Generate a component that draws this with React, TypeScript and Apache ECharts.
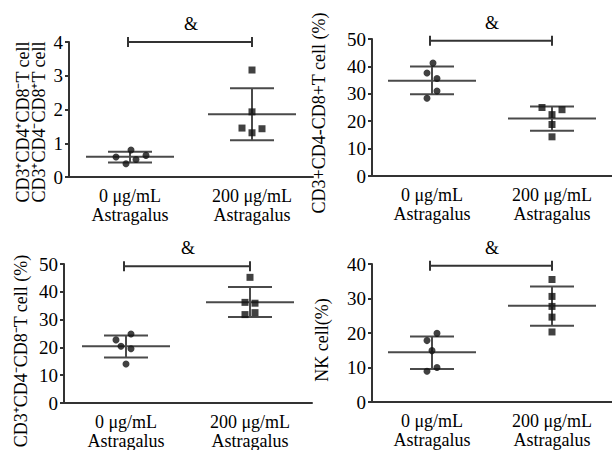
import React, { useEffect, useRef } from "react";
import * as echarts from "echarts";

const CATEGORIES = ["0 μg/mL\nAstragalus", "200 μg/mL\nAstragalus"];

// Panel 1: ratio
const P1_CTRL = [0.59, 0.8, 0.39, 0.52, 0.64];
const P1_TRT = [3.17, 1.93, 1.45, 1.43, 1.31];
const P1_MEAN = [0.6, 1.86];
const P1_LOW = [0.43, 1.09];
const P1_HIGH = [0.75, 2.63];

// Panel 2: CD3+CD4-CD8+ T cell (%)
const P2_CTRL = [41.2, 37.6, 35.6, 31.0, 28.4];
const P2_TRT = [25.0, 24.2, 22.4, 18.8, 14.3];
const P2_MEAN = [34.8, 21.0];
const P2_LOW = [29.8, 16.5];
const P2_HIGH = [40.0, 25.4];

// Panel 3: CD3+CD4-CD8- T cell (%)
const P3_CTRL = [24.8, 22.7, 20.4, 19.5, 14.0];
const P3_TRT = [45.2, 36.2, 35.9, 31.8, 32.5];
const P3_MEAN = [20.4, 36.2];
const P3_LOW = [16.4, 30.9];
const P3_HIGH = [24.3, 41.7];

// Panel 4: NK cell (%)
const P4_CTRL = [19.9, 17.8, 14.9, 10.0, 8.9];
const P4_TRT = [35.5, 30.6, 27.7, 24.6, 20.3];
const P4_MEAN = [14.4, 27.9];
const P4_LOW = [9.6, 22.1];
const P4_HIGH = [19.0, 33.5];

const Y_MAX = [4, 50, 50, 40];
const Y_INTERVAL = [1, 10, 10, 10];
const BRACKET = [4.0, 49.4, 49.2, 39.5];

// horizontal scatter spread (pixels) — style only
const OFF = [
  [[-14, 1, -4, 6, 16], [0, 0, -10, 10, 0]],
  [[1, -5, 5, 5, -5], [-10, 10, 0, 0, 0]],
  [[5, -10, -5, 5, 0], [0, -5, 5, -5, 5]],
  [[5, -5, 0, 5, -5], [0, 0, 0, 0, 0]],
];

const SERIF = "Liberation Serif";

export default function App() {
  const ref = useRef<HTMLDivElement>(null);
  useEffect(() => {
    if (!ref.current) return;
    const chart = echarts.init(ref.current, null, { renderer: "svg" });
    const grids = [
      { left: 69, top: 42, width: 244, height: 135 },
      { left: 372, top: 39, width: 248, height: 137 },
      { left: 64, top: 264, width: 248, height: 139 },
      { left: 372, top: 264, width: 248, height: 138 },
    ];
    const panels = [
      { ctrl: P1_CTRL, trt: P1_TRT, mean: P1_MEAN, low: P1_LOW, high: P1_HIGH },
      { ctrl: P2_CTRL, trt: P2_TRT, mean: P2_MEAN, low: P2_LOW, high: P2_HIGH },
      { ctrl: P3_CTRL, trt: P3_TRT, mean: P3_MEAN, low: P3_LOW, high: P3_HIGH },
      { ctrl: P4_CTRL, trt: P4_TRT, mean: P4_MEAN, low: P4_LOW, high: P4_HIGH },
    ];
    const axisColor = "#333";
    const xAxis = grids.map((_, i) => ({
      type: "category",
      gridIndex: i,
      data: CATEGORIES,
      boundaryGap: true,
      axisLine: { lineStyle: { color: axisColor, width: 2 } },
      axisTick: { alignWithLabel: true, length: 5, lineStyle: { color: axisColor, width: 2 } },
      axisLabel: {
        color: "#000",
        fontFamily: SERIF,
        fontSize: 18,
        lineHeight: 19,
        margin: 9,
      },
      splitLine: { show: false },
    }));
    const yAxis = grids.map((_, i) => ({
      type: "value",
      gridIndex: i,
      min: 0,
      max: Y_MAX[i],
      interval: Y_INTERVAL[i],
      axisLine: { show: true, lineStyle: { color: axisColor, width: 2 } },
      axisTick: { show: true, length: 4, lineStyle: { color: axisColor, width: 2 } },
      axisLabel: { color: "#000", fontFamily: SERIF, fontSize: 19, margin: 6 },
      splitLine: { show: false },
    }));
    const series: any[] = [];
    panels.forEach((p, i) => {
      // mean ± SD
      series.push({
        type: "custom",
        xAxisIndex: i,
        yAxisIndex: i,
        data: p.mean.map((m, k) => [k, m, p.low[k], p.high[k]]),
        encode: { x: 0, y: [1, 2, 3] },
        renderItem: (params: any, api: any) => {
          const c = api.value(0);
          const pm = api.coord([c, api.value(1)]);
          const pl = api.coord([c, api.value(2)]);
          const ph = api.coord([c, api.value(3)]);
          const st = { stroke: "#4a4a4a", lineWidth: 2 };
          return {
            type: "group",
            children: [
              { type: "line", shape: { x1: pm[0] - 44, y1: pm[1], x2: pm[0] + 44, y2: pm[1] }, style: st },
              { type: "line", shape: { x1: pl[0] - 22, y1: pl[1], x2: pl[0] + 22, y2: pl[1] }, style: st },
              { type: "line", shape: { x1: ph[0] - 22, y1: ph[1], x2: ph[0] + 22, y2: ph[1] }, style: st },
              { type: "line", shape: { x1: pl[0], y1: pl[1], x2: ph[0], y2: ph[1] }, style: st },
            ],
          };
        },
        z: 2,
      });
      // significance bracket
      series.push({
        type: "custom",
        xAxisIndex: i,
        yAxisIndex: i,
        data: [[0, 1, BRACKET[i]]],
        encode: { x: [0, 1], y: 2 },
        renderItem: (params: any, api: any) => {
          const a = api.coord([api.value(0), api.value(2)]);
          const b = api.coord([api.value(1), api.value(2)]);
          const st = { stroke: "#333", lineWidth: 2 };
          return {
            type: "group",
            children: [
              { type: "line", shape: { x1: a[0] - 2, y1: a[1], x2: b[0], y2: b[1] }, style: st },
              { type: "line", shape: { x1: a[0] - 2, y1: a[1] - 5, x2: a[0] - 2, y2: a[1] + 5 }, style: st },
              { type: "line", shape: { x1: b[0], y1: b[1] - 5, x2: b[0], y2: b[1] + 5 }, style: st },
              {
                type: "text",
                x: (a[0] + b[0]) / 2,
                y: a[1] - 18,
                style: {
                  text: "&",
                  fontFamily: SERIF,
                  fontSize: 18,
                  fill: "#000",
                  align: "center",
                  verticalAlign: "middle",
                },
              },
            ],
          };
        },
        clip: false,
        z: 3,
      });
      series.push({
        type: "scatter",
        xAxisIndex: i,
        yAxisIndex: i,
        symbol: "circle",
        symbolSize: 7,
        itemStyle: { color: "#111" },
        data: p.ctrl.map((v, k) => ({ value: [0, v], symbolOffset: [OFF[i][0][k], 0] })),
        z: 4,
      });
      series.push({
        type: "scatter",
        xAxisIndex: i,
        yAxisIndex: i,
        symbol: "rect",
        symbolSize: 7,
        itemStyle: { color: "#111" },
        data: p.trt.map((v, k) => ({ value: [1, v], symbolOffset: [OFF[i][1][k], 0] })),
        z: 4,
      });
    });
    const nameStyle = (text: string, lineHeight = 19) => ({
      text,
      fontFamily: SERIF,
      fontSize: 18,
      lineHeight,
      fill: "#000",
      align: "center",
      verticalAlign: "middle",
    });
    chart.setOption({
      animation: false,
      backgroundColor: "#fff",
      grid: grids,
      xAxis,
      yAxis,
      series,
      graphic: [
        {
          type: "text",
          x: 31,
          y: 122,
          rotation: Math.PI / 2,
          style: nameStyle("CD3⁺CD4⁺CD8⁻T cell\nCD3⁺CD4⁻CD8⁺T cell", 16),
        },
        { type: "text", x: 319, y: 113, rotation: Math.PI / 2, style: nameStyle("CD3+CD4-CD8+T cell (%)") },
        { type: "text", x: 21, y: 351, rotation: Math.PI / 2, style: nameStyle("CD3⁺CD4⁻CD8⁻T cell (%)") },
        { type: "text", x: 322, y: 340, rotation: Math.PI / 2, style: nameStyle("NK cell(%)") },
      ],
    });
    return () => chart.dispose();
  }, []);
  return (
    <div
      ref={ref}
      style={{ position: "fixed", left: 0, top: 0, width: 612, height: 450, background: "#fff" }}
    />
  );
}
